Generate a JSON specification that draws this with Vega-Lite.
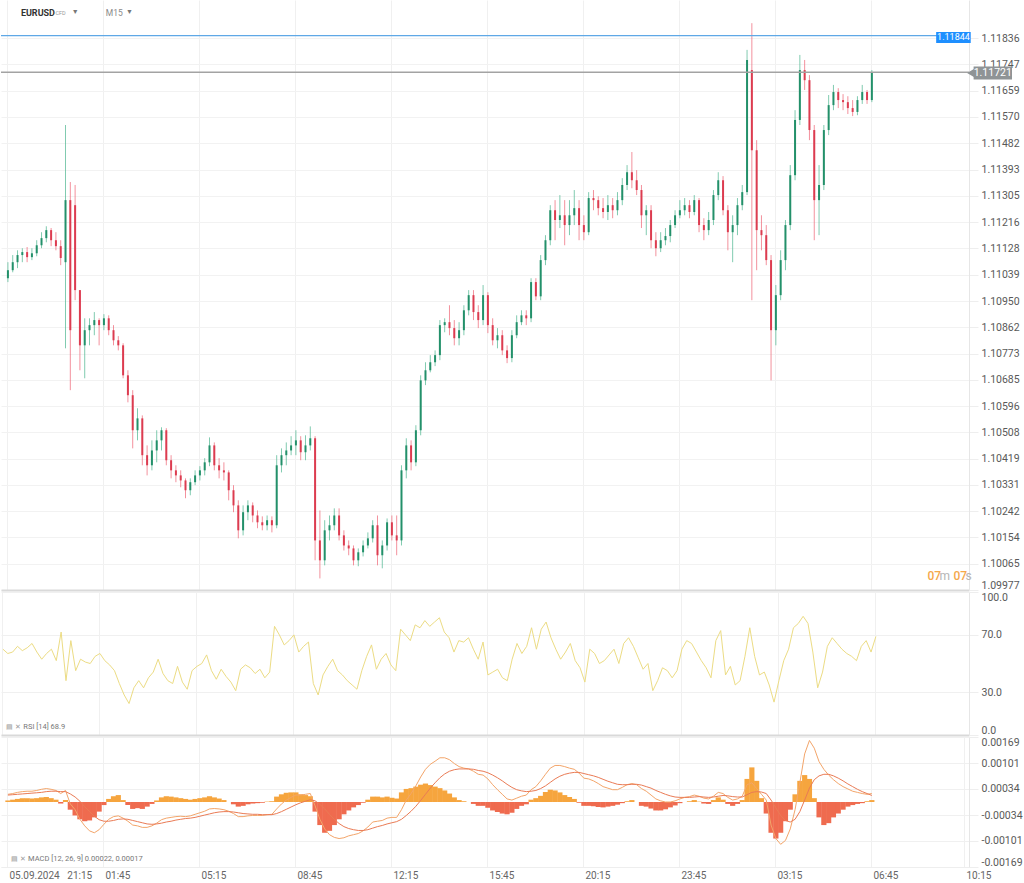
{
"$schema": "https://vega.github.io/schema/vega-lite/v6.json",
"padding": 0,
"spacing": 0,
"background": "white",
"config": {"view": {"stroke": null}, "axis": {"labelFont": "Roboto", "labelOverlap": false}, "text": {"font": "Roboto"}},
"data": {"values": [
{"i":0,"o":1.11027,"h":1.11081,"l":1.11014,"c":1.11054,"r":60,"m":0.0002,"s":0.00018,"g":0.00004},
{"i":1,"o":1.11054,"h":1.11105,"l":1.11047,"c":1.11081,"r":57,"m":0.00022,"s":0.00019,"g":0.00006},
{"i":2,"o":1.11081,"h":1.11121,"l":1.11061,"c":1.11105,"r":58,"m":0.00025,"s":0.0002,"g":0.00008},
{"i":3,"o":1.11105,"h":1.11128,"l":1.11081,"c":1.11115,"r":62,"m":0.00027,"s":0.00021,"g":0.0001},
{"i":4,"o":1.11115,"h":1.11132,"l":1.11081,"c":1.11098,"r":59,"m":0.00028,"s":0.00022,"g":0.0001},
{"i":5,"o":1.11098,"h":1.11128,"l":1.11088,"c":1.11111,"r":61,"m":0.00028,"s":0.00023,"g":0.00009},
{"i":6,"o":1.11111,"h":1.11155,"l":1.11101,"c":1.11138,"r":64,"m":0.0003,"s":0.00024,"g":0.0001},
{"i":7,"o":1.11138,"h":1.11182,"l":1.11128,"c":1.11162,"r":58,"m":0.00033,"s":0.00025,"g":0.00012},
{"i":8,"o":1.11162,"h":1.11202,"l":1.11148,"c":1.11189,"r":53,"m":0.00035,"s":0.00027,"g":0.00013},
{"i":9,"o":1.11189,"h":1.11196,"l":1.11135,"c":1.11155,"r":57,"m":0.00033,"s":0.00028,"g":0.0001},
{"i":10,"o":1.11155,"h":1.11182,"l":1.11121,"c":1.11135,"r":60,"m":0.0003,"s":0.00028,"g":0.00006},
{"i":11,"o":1.11135,"h":1.11155,"l":1.11071,"c":1.11095,"r":52,"m":0.00022,"s":0.00027,"g":-0.00004},
{"i":12,"o":1.11081,"h":1.11543,"l":1.10791,"c":1.1129,"r":72,"m":0.0003,"s":0.00027,"g":0.00005},
{"i":13,"o":1.1129,"h":1.11351,"l":1.1065,"c":1.10852,"r":38,"m":-0.00005,"s":0.00021,"g":-0.0002},
{"i":14,"o":1.11273,"h":1.11341,"l":1.10953,"c":1.10987,"r":66,"m":-0.0002,"s":0.00013,"g":-0.00035},
{"i":15,"o":1.10987,"h":1.10987,"l":1.10717,"c":1.10801,"r":45,"m":-0.00045,"s":0.00002,"g":-0.00045},
{"i":16,"o":1.10801,"h":1.10892,"l":1.1069,"c":1.10852,"r":53,"m":-0.00062,"s":-0.00012,"g":-0.0005},
{"i":17,"o":1.10852,"h":1.10892,"l":1.10801,"c":1.10869,"r":51,"m":-0.00075,"s":-0.00025,"g":-0.00048},
{"i":18,"o":1.10869,"h":1.10913,"l":1.10835,"c":1.10886,"r":50,"m":-0.0008,"s":-0.00037,"g":-0.0004},
{"i":19,"o":1.10886,"h":1.10892,"l":1.10801,"c":1.10869,"r":55,"m":-0.00072,"s":-0.00046,"g":-0.00025},
{"i":20,"o":1.10869,"h":1.10906,"l":1.10852,"c":1.10892,"r":57,"m":-0.00058,"s":-0.0005,"g":-0.00008},
{"i":21,"o":1.10892,"h":1.10902,"l":1.10835,"c":1.10852,"r":52,"m":-0.00045,"s":-0.0005,"g":0.00008},
{"i":22,"o":1.10852,"h":1.10869,"l":1.10801,"c":1.10818,"r":49,"m":-0.00038,"s":-0.00048,"g":0.00015},
{"i":23,"o":1.10818,"h":1.10832,"l":1.10784,"c":1.10801,"r":45,"m":-0.00036,"s":-0.00045,"g":0.00018},
{"i":24,"o":1.10801,"h":1.10808,"l":1.1069,"c":1.107,"r":36,"m":-0.00042,"s":-0.00044,"g":0.00005},
{"i":25,"o":1.107,"h":1.10717,"l":1.10609,"c":1.10633,"r":28,"m":-0.0005,"s":-0.00045,"g":-0.00008},
{"i":26,"o":1.10633,"h":1.1065,"l":1.10454,"c":1.10515,"r":22,"m":-0.0006,"s":-0.00048,"g":-0.00018},
{"i":27,"o":1.10515,"h":1.10589,"l":1.10481,"c":1.10555,"r":33,"m":-0.00062,"s":-0.00051,"g":-0.00016},
{"i":28,"o":1.10555,"h":1.10565,"l":1.10397,"c":1.10431,"r":38,"m":-0.00066,"s":-0.00054,"g":-0.00018},
{"i":29,"o":1.10431,"h":1.10464,"l":1.10363,"c":1.10397,"r":33,"m":-0.00066,"s":-0.00057,"g":-0.00012},
{"i":30,"o":1.10397,"h":1.10481,"l":1.1038,"c":1.10447,"r":40,"m":-0.00062,"s":-0.00058,"g":-0.00005},
{"i":31,"o":1.10447,"h":1.10515,"l":1.10407,"c":1.10481,"r":44,"m":-0.00055,"s":-0.00057,"g":0.00004},
{"i":32,"o":1.10481,"h":1.10525,"l":1.10447,"c":1.10515,"r":53,"m":-0.00046,"s":-0.00055,"g":0.00012},
{"i":33,"o":1.10515,"h":1.10522,"l":1.10397,"c":1.10414,"r":43,"m":-0.00042,"s":-0.00052,"g":0.00015},
{"i":34,"o":1.10414,"h":1.10431,"l":1.10353,"c":1.1038,"r":38,"m":-0.0004,"s":-0.0005,"g":0.00014},
{"i":35,"o":1.1038,"h":1.10397,"l":1.1034,"c":1.10363,"r":36,"m":-0.00038,"s":-0.00047,"g":0.00012},
{"i":36,"o":1.10363,"h":1.1038,"l":1.10323,"c":1.10346,"r":48,"m":-0.00037,"s":-0.00045,"g":0.0001},
{"i":37,"o":1.10346,"h":1.10353,"l":1.10286,"c":1.10313,"r":37,"m":-0.00038,"s":-0.00043,"g":0.00008},
{"i":38,"o":1.10313,"h":1.10353,"l":1.10296,"c":1.1034,"r":32,"m":-0.00036,"s":-0.00042,"g":0.00006},
{"i":39,"o":1.1034,"h":1.1038,"l":1.1033,"c":1.10363,"r":45,"m":-0.00032,"s":-0.0004,"g":0.00008},
{"i":40,"o":1.10363,"h":1.10394,"l":1.10346,"c":1.1038,"r":48,"m":-0.00028,"s":-0.00037,"g":0.0001},
{"i":41,"o":1.1038,"h":1.10421,"l":1.10363,"c":1.10407,"r":50,"m":-0.00024,"s":-0.00034,"g":0.00012},
{"i":42,"o":1.10407,"h":1.10491,"l":1.10394,"c":1.10464,"r":56,"m":-0.00018,"s":-0.00031,"g":0.00015},
{"i":43,"o":1.10464,"h":1.10474,"l":1.1038,"c":1.10397,"r":45,"m":-0.00017,"s":-0.00028,"g":0.00012},
{"i":44,"o":1.10397,"h":1.10421,"l":1.10353,"c":1.1038,"r":39,"m":-0.00018,"s":-0.00026,"g":0.00009},
{"i":45,"o":1.1038,"h":1.10407,"l":1.10346,"c":1.10373,"r":46,"m":-0.0002,"s":-0.00025,"g":0.00005},
{"i":46,"o":1.10373,"h":1.1038,"l":1.10279,"c":1.10313,"r":41,"m":-0.00024,"s":-0.00025,"g":0},
{"i":47,"o":1.10313,"h":1.1033,"l":1.10239,"c":1.10262,"r":37,"m":-0.0003,"s":-0.00026,"g":-0.00006},
{"i":48,"o":1.10262,"h":1.10279,"l":1.10151,"c":1.10178,"r":31,"m":-0.00038,"s":-0.00028,"g":-0.00012},
{"i":49,"o":1.10178,"h":1.10262,"l":1.10161,"c":1.10239,"r":46,"m":-0.00038,"s":-0.0003,"g":-0.0001},
{"i":50,"o":1.10239,"h":1.10279,"l":1.10212,"c":1.10262,"r":49,"m":-0.00036,"s":-0.00031,"g":-0.00006},
{"i":51,"o":1.10262,"h":1.10272,"l":1.10205,"c":1.10228,"r":47,"m":-0.00035,"s":-0.00032,"g":-0.00004},
{"i":52,"o":1.10228,"h":1.10245,"l":1.10185,"c":1.10205,"r":43,"m":-0.00035,"s":-0.00032,"g":-0.00003},
{"i":53,"o":1.10205,"h":1.10225,"l":1.10178,"c":1.10195,"r":46,"m":-0.00035,"s":-0.00033,"g":-0.00002},
{"i":54,"o":1.10195,"h":1.10228,"l":1.10178,"c":1.10212,"r":40,"m":-0.00033,"s":-0.00033,"g":0.00001},
{"i":55,"o":1.10212,"h":1.10225,"l":1.10171,"c":1.10195,"r":44,"m":-0.00032,"s":-0.00033,"g":0.00002},
{"i":56,"o":1.10195,"h":1.10431,"l":1.10185,"c":1.10397,"r":76,"m":-0.00018,"s":-0.0003,"g":0.00014},
{"i":57,"o":1.10397,"h":1.10454,"l":1.10373,"c":1.10431,"r":70,"m":-0.00005,"s":-0.00025,"g":0.0002},
{"i":58,"o":1.10431,"h":1.10474,"l":1.10397,"c":1.10447,"r":63,"m":0.00005,"s":-0.00019,"g":0.00024},
{"i":59,"o":1.10447,"h":1.10495,"l":1.10431,"c":1.10464,"r":66,"m":0.00012,"s":-0.00013,"g":0.00025},
{"i":60,"o":1.10464,"h":1.10515,"l":1.10431,"c":1.10481,"r":70,"m":0.00018,"s":-0.00007,"g":0.00025},
{"i":61,"o":1.10481,"h":1.10495,"l":1.10414,"c":1.10441,"r":58,"m":0.00018,"s":-0.00002,"g":0.0002},
{"i":62,"o":1.10441,"h":1.10498,"l":1.10414,"c":1.10464,"r":62,"m":0.0002,"s":0.00002,"g":0.00018},
{"i":63,"o":1.10464,"h":1.10528,"l":1.10447,"c":1.10488,"r":65,"m":0.00022,"s":0.00006,"g":0.00015},
{"i":64,"o":1.10488,"h":1.10495,"l":1.10077,"c":1.10144,"r":36,"m":-0.0001,"s":0.00003,"g":-0.00025},
{"i":65,"o":1.10144,"h":1.10245,"l":1.10016,"c":1.10077,"r":28,"m":-0.00045,"s":-0.00006,"g":-0.0006},
{"i":66,"o":1.10077,"h":1.10212,"l":1.1006,"c":1.10178,"r":42,"m":-0.0007,"s":-0.00018,"g":-0.0008},
{"i":67,"o":1.10178,"h":1.10228,"l":1.10144,"c":1.10195,"r":48,"m":-0.00085,"s":-0.00032,"g":-0.00075},
{"i":68,"o":1.10195,"h":1.10252,"l":1.10178,"c":1.10228,"r":53,"m":-0.00092,"s":-0.00045,"g":-0.0006},
{"i":69,"o":1.10228,"h":1.10252,"l":1.10144,"c":1.10161,"r":45,"m":-0.00095,"s":-0.00056,"g":-0.00045},
{"i":70,"o":1.10161,"h":1.10178,"l":1.1011,"c":1.10127,"r":42,"m":-0.00093,"s":-0.00064,"g":-0.00032},
{"i":71,"o":1.10127,"h":1.10144,"l":1.10094,"c":1.10117,"r":38,"m":-0.00088,"s":-0.00069,"g":-0.00022},
{"i":72,"o":1.10117,"h":1.10127,"l":1.1006,"c":1.10077,"r":35,"m":-0.00085,"s":-0.00072,"g":-0.00014},
{"i":73,"o":1.10077,"h":1.10117,"l":1.10057,"c":1.10104,"r":32,"m":-0.00082,"s":-0.00074,"g":-0.00008},
{"i":74,"o":1.10104,"h":1.10144,"l":1.1009,"c":1.10127,"r":45,"m":-0.00075,"s":-0.00074,"g":-0.00002},
{"i":75,"o":1.10127,"h":1.10171,"l":1.10117,"c":1.10151,"r":55,"m":-0.00065,"s":-0.00072,"g":0.00006},
{"i":76,"o":1.10151,"h":1.10212,"l":1.10137,"c":1.10195,"r":63,"m":-0.00052,"s":-0.00068,"g":0.00014},
{"i":77,"o":1.10195,"h":1.10228,"l":1.1006,"c":1.10094,"r":46,"m":-0.0005,"s":-0.00064,"g":0.00014},
{"i":78,"o":1.10094,"h":1.10144,"l":1.1005,"c":1.10127,"r":53,"m":-0.00048,"s":-0.00061,"g":0.00012},
{"i":79,"o":1.10127,"h":1.10218,"l":1.1011,"c":1.10205,"r":57,"m":-0.00042,"s":-0.00057,"g":0.00014},
{"i":80,"o":1.10205,"h":1.10228,"l":1.10144,"c":1.10161,"r":49,"m":-0.0004,"s":-0.00054,"g":0.00011},
{"i":81,"o":1.10161,"h":1.10228,"l":1.10094,"c":1.10144,"r":45,"m":-0.0004,"s":-0.00051,"g":0.00009},
{"i":82,"o":1.10144,"h":1.10397,"l":1.10127,"c":1.1038,"r":74,"m":-0.0002,"s":-0.00045,"g":0.00025},
{"i":83,"o":1.1038,"h":1.10488,"l":1.10353,"c":1.10464,"r":70,"m":0.00005,"s":-0.00035,"g":0.00034},
{"i":84,"o":1.10464,"h":1.10481,"l":1.1038,"c":1.10407,"r":66,"m":0.00022,"s":-0.00024,"g":0.00036},
{"i":85,"o":1.10407,"h":1.10532,"l":1.10394,"c":1.10515,"r":77,"m":0.00042,"s":-0.00011,"g":0.0004},
{"i":86,"o":1.10515,"h":1.107,"l":1.10498,"c":1.10683,"r":75,"m":0.00065,"s":0.00004,"g":0.00045},
{"i":87,"o":1.10683,"h":1.10744,"l":1.10667,"c":1.10717,"r":80,"m":0.00085,"s":0.0002,"g":0.00048},
{"i":88,"o":1.10717,"h":1.10768,"l":1.1071,"c":1.10744,"r":76,"m":0.00098,"s":0.00036,"g":0.00044},
{"i":89,"o":1.10744,"h":1.10784,"l":1.10731,"c":1.10768,"r":79,"m":0.00106,"s":0.0005,"g":0.0004},
{"i":90,"o":1.10768,"h":1.10886,"l":1.10751,"c":1.10869,"r":82,"m":0.00115,"s":0.00063,"g":0.00036},
{"i":91,"o":1.10869,"h":1.10892,"l":1.10845,"c":1.10879,"r":72,"m":0.00115,"s":0.00073,"g":0.0003},
{"i":92,"o":1.10879,"h":1.10936,"l":1.10835,"c":1.10859,"r":68,"m":0.0011,"s":0.0008,"g":0.00022},
{"i":93,"o":1.10859,"h":1.10886,"l":1.10801,"c":1.10825,"r":58,"m":0.001,"s":0.00084,"g":0.00012},
{"i":94,"o":1.10825,"h":1.10879,"l":1.10801,"c":1.10852,"r":66,"m":0.00092,"s":0.00086,"g":0.00005},
{"i":95,"o":1.10852,"h":1.10936,"l":1.10835,"c":1.10919,"r":65,"m":0.00088,"s":0.00086,"g":0.00002},
{"i":96,"o":1.10919,"h":1.10987,"l":1.10902,"c":1.1097,"r":68,"m":0.00086,"s":0.00086,"g":0},
{"i":97,"o":1.1097,"h":1.10987,"l":1.10886,"c":1.10913,"r":60,"m":0.0008,"s":0.00085,"g":-0.00005},
{"i":98,"o":1.10913,"h":1.10936,"l":1.10859,"c":1.10886,"r":53,"m":0.00072,"s":0.00082,"g":-0.0001},
{"i":99,"o":1.10886,"h":1.11004,"l":1.10869,"c":1.1097,"r":65,"m":0.0007,"s":0.0008,"g":-0.0001},
{"i":100,"o":1.1097,"h":1.1098,"l":1.10842,"c":1.10869,"r":42,"m":0.0006,"s":0.00076,"g":-0.00015},
{"i":101,"o":1.10869,"h":1.10892,"l":1.10801,"c":1.10818,"r":44,"m":0.00045,"s":0.0007,"g":-0.00022},
{"i":102,"o":1.10818,"h":1.10859,"l":1.10791,"c":1.10835,"r":46,"m":0.00032,"s":0.00063,"g":-0.00026},
{"i":103,"o":1.10835,"h":1.10852,"l":1.10768,"c":1.10784,"r":40,"m":0.0002,"s":0.00055,"g":-0.0003},
{"i":104,"o":1.10784,"h":1.10801,"l":1.10741,"c":1.10758,"r":38,"m":0.00008,"s":0.00046,"g":-0.00032},
{"i":105,"o":1.10758,"h":1.10852,"l":1.10744,"c":1.10835,"r":53,"m":0.00005,"s":0.00038,"g":-0.00028},
{"i":106,"o":1.10835,"h":1.10902,"l":1.10825,"c":1.10879,"r":64,"m":0.0001,"s":0.00032,"g":-0.00018},
{"i":107,"o":1.10879,"h":1.10919,"l":1.10869,"c":1.10902,"r":57,"m":0.00015,"s":0.00029,"g":-0.0001},
{"i":108,"o":1.10902,"h":1.10919,"l":1.10869,"c":1.10892,"r":62,"m":0.00018,"s":0.00027,"g":-0.00006},
{"i":109,"o":1.10892,"h":1.11027,"l":1.10879,"c":1.11014,"r":75,"m":0.00032,"s":0.00028,"g":0.00006},
{"i":110,"o":1.11014,"h":1.11027,"l":1.10953,"c":1.10966,"r":60,"m":0.0004,"s":0.0003,"g":0.0001},
{"i":111,"o":1.10966,"h":1.11105,"l":1.10953,"c":1.11088,"r":74,"m":0.00055,"s":0.00035,"g":0.00016},
{"i":112,"o":1.11088,"h":1.11172,"l":1.11071,"c":1.11155,"r":79,"m":0.00072,"s":0.00042,"g":0.00026},
{"i":113,"o":1.11155,"h":1.11273,"l":1.11138,"c":1.11256,"r":68,"m":0.00088,"s":0.00051,"g":0.00032},
{"i":114,"o":1.11256,"h":1.1129,"l":1.11155,"c":1.11223,"r":60,"m":0.00095,"s":0.0006,"g":0.0003},
{"i":115,"o":1.11223,"h":1.11307,"l":1.11196,"c":1.11239,"r":53,"m":0.00095,"s":0.00067,"g":0.00025},
{"i":116,"o":1.11239,"h":1.1129,"l":1.11138,"c":1.11206,"r":58,"m":0.00092,"s":0.00072,"g":0.00018},
{"i":117,"o":1.11206,"h":1.1129,"l":1.11172,"c":1.11239,"r":64,"m":0.00088,"s":0.00075,"g":0.00013},
{"i":118,"o":1.11239,"h":1.11324,"l":1.11206,"c":1.11263,"r":52,"m":0.00085,"s":0.00077,"g":0.00008},
{"i":119,"o":1.11263,"h":1.1129,"l":1.11155,"c":1.11206,"r":47,"m":0.00075,"s":0.00077,"g":-0.00002},
{"i":120,"o":1.11206,"h":1.11239,"l":1.11155,"c":1.11182,"r":37,"m":0.00062,"s":0.00074,"g":-0.0001},
{"i":121,"o":1.11182,"h":1.11317,"l":1.11172,"c":1.11297,"r":60,"m":0.0006,"s":0.00071,"g":-0.0001},
{"i":122,"o":1.11297,"h":1.11324,"l":1.11256,"c":1.1129,"r":57,"m":0.00055,"s":0.00068,"g":-0.00011},
{"i":123,"o":1.1129,"h":1.11303,"l":1.11239,"c":1.11263,"r":50,"m":0.00048,"s":0.00064,"g":-0.00013},
{"i":124,"o":1.11263,"h":1.11297,"l":1.11229,"c":1.1125,"r":52,"m":0.0004,"s":0.00059,"g":-0.00014},
{"i":125,"o":1.1125,"h":1.11307,"l":1.11223,"c":1.11273,"r":56,"m":0.00036,"s":0.00054,"g":-0.00012},
{"i":126,"o":1.11273,"h":1.11297,"l":1.11229,"c":1.11256,"r":60,"m":0.00032,"s":0.0005,"g":-0.0001},
{"i":127,"o":1.11256,"h":1.11317,"l":1.11239,"c":1.1129,"r":50,"m":0.00032,"s":0.00046,"g":-0.00007},
{"i":128,"o":1.1129,"h":1.11364,"l":1.11273,"c":1.11341,"r":64,"m":0.00038,"s":0.00045,"g":-0.00003},
{"i":129,"o":1.11341,"h":1.11408,"l":1.11324,"c":1.11384,"r":68,"m":0.00045,"s":0.00045,"g":0.00002},
{"i":130,"o":1.11384,"h":1.11452,"l":1.1133,"c":1.11357,"r":62,"m":0.00048,"s":0.00046,"g":0.00005},
{"i":131,"o":1.11357,"h":1.11391,"l":1.11307,"c":1.11324,"r":54,"m":0.00045,"s":0.00046,"g":0},
{"i":132,"o":1.11324,"h":1.11341,"l":1.11196,"c":1.11239,"r":46,"m":0.00035,"s":0.00044,"g":-0.0001},
{"i":133,"o":1.11239,"h":1.11273,"l":1.11172,"c":1.11256,"r":50,"m":0.00028,"s":0.0004,"g":-0.00012},
{"i":134,"o":1.11256,"h":1.11273,"l":1.11128,"c":1.11155,"r":31,"m":0.00018,"s":0.00036,"g":-0.00017},
{"i":135,"o":1.11155,"h":1.11182,"l":1.11101,"c":1.11128,"r":38,"m":0.00008,"s":0.0003,"g":-0.00022},
{"i":136,"o":1.11128,"h":1.11182,"l":1.11115,"c":1.11155,"r":47,"m":0.00003,"s":0.00025,"g":-0.00022},
{"i":137,"o":1.11155,"h":1.11196,"l":1.11138,"c":1.11169,"r":45,"m":0,"s":0.0002,"g":-0.00019},
{"i":138,"o":1.11169,"h":1.11223,"l":1.11148,"c":1.11206,"r":40,"m":0,"s":0.00016,"g":-0.00014},
{"i":139,"o":1.11206,"h":1.11256,"l":1.11196,"c":1.11239,"r":45,"m":0.00003,"s":0.00013,"g":-0.00009},
{"i":140,"o":1.11239,"h":1.1129,"l":1.11229,"c":1.11256,"r":60,"m":0.00008,"s":0.00012,"g":-0.00003},
{"i":141,"o":1.11256,"h":1.11297,"l":1.11239,"c":1.11273,"r":66,"m":0.00012,"s":0.00012,"g":0},
{"i":142,"o":1.11273,"h":1.1129,"l":1.11229,"c":1.1125,"r":64,"m":0.00014,"s":0.00012,"g":0.00002},
{"i":143,"o":1.1125,"h":1.11307,"l":1.11239,"c":1.1129,"r":58,"m":0.00018,"s":0.00013,"g":0.00005},
{"i":144,"o":1.1129,"h":1.11297,"l":1.11182,"c":1.11206,"r":52,"m":0.00015,"s":0.00014,"g":0.00001},
{"i":145,"o":1.11206,"h":1.11229,"l":1.11155,"c":1.11189,"r":47,"m":0.0001,"s":0.00013,"g":-0.00004},
{"i":146,"o":1.11189,"h":1.1125,"l":1.11172,"c":1.11223,"r":40,"m":0.00008,"s":0.00012,"g":-0.00005},
{"i":147,"o":1.11223,"h":1.11324,"l":1.11206,"c":1.11307,"r":66,"m":0.00015,"s":0.00013,"g":0.00005},
{"i":148,"o":1.11307,"h":1.11384,"l":1.1129,"c":1.11357,"r":73,"m":0.00025,"s":0.00015,"g":0.00012},
{"i":149,"o":1.11357,"h":1.11371,"l":1.11239,"c":1.11256,"r":42,"m":0.00022,"s":0.00017,"g":0.00006},
{"i":150,"o":1.11256,"h":1.11273,"l":1.11121,"c":1.11182,"r":48,"m":0.00012,"s":0.00016,"g":-0.00005},
{"i":151,"o":1.11182,"h":1.11239,"l":1.11081,"c":1.11206,"r":35,"m":0.00005,"s":0.00014,"g":-0.0001},
{"i":152,"o":1.11206,"h":1.11297,"l":1.11172,"c":1.11273,"r":38,"m":0.00008,"s":0.00013,"g":-0.00005},
{"i":153,"o":1.11273,"h":1.11341,"l":1.11256,"c":1.11317,"r":55,"m":0.00015,"s":0.00013,"g":0.00005},
{"i":154,"o":1.11317,"h":1.11796,"l":1.11307,"c":1.11762,"r":75,"m":0.00045,"s":0.00019,"g":0.0006},
{"i":155,"o":1.11728,"h":1.11886,"l":1.10953,"c":1.11458,"r":55,"m":0.0005,"s":0.00025,"g":0.0009},
{"i":156,"o":1.11458,"h":1.11492,"l":1.11054,"c":1.11189,"r":42,"m":0.00035,"s":0.00027,"g":0.00055},
{"i":157,"o":1.11189,"h":1.11239,"l":1.11121,"c":1.11172,"r":44,"m":0.0002,"s":0.00026,"g":0.0001},
{"i":158,"o":1.11172,"h":1.11206,"l":1.11071,"c":1.11088,"r":35,"m":0.00005,"s":0.00022,"g":-0.0003},
{"i":159,"o":1.11088,"h":1.11105,"l":1.10683,"c":1.10852,"r":23,"m":-0.0006,"s":0.00005,"g":-0.0008},
{"i":160,"o":1.10852,"h":1.11004,"l":1.10801,"c":1.1097,"r":38,"m":-0.00095,"s":-0.00015,"g":-0.00095},
{"i":161,"o":1.1097,"h":1.11121,"l":1.10953,"c":1.11088,"r":52,"m":-0.0011,"s":-0.00035,"g":-0.0008},
{"i":162,"o":1.11088,"h":1.11223,"l":1.11054,"c":1.11206,"r":60,"m":-0.001,"s":-0.00048,"g":-0.0005},
{"i":163,"o":1.11206,"h":1.11408,"l":1.11189,"c":1.11374,"r":75,"m":-0.0007,"s":-0.00052,"g":-0.0002},
{"i":164,"o":1.11374,"h":1.11593,"l":1.11357,"c":1.1156,"r":78,"m":-0.0002,"s":-0.00045,"g":0.0002},
{"i":165,"o":1.1156,"h":1.11779,"l":1.11543,"c":1.11728,"r":83,"m":0.0005,"s":-0.00025,"g":0.00055},
{"i":166,"o":1.11728,"h":1.11762,"l":1.11661,"c":1.11694,"r":78,"m":0.00125,"s":0.00005,"g":0.0007},
{"i":167,"o":1.11694,"h":1.11711,"l":1.11492,"c":1.11526,"r":58,"m":0.0016,"s":0.00036,"g":0.0006},
{"i":168,"o":1.11526,"h":1.11543,"l":1.11155,"c":1.1129,"r":33,"m":0.0014,"s":0.00058,"g":0.0001},
{"i":169,"o":1.1129,"h":1.11408,"l":1.11172,"c":1.11341,"r":44,"m":0.00105,"s":0.00068,"g":-0.0004},
{"i":170,"o":1.11341,"h":1.11543,"l":1.11324,"c":1.11526,"r":62,"m":0.00085,"s":0.00072,"g":-0.0006},
{"i":171,"o":1.11526,"h":1.11644,"l":1.11509,"c":1.1161,"r":68,"m":0.0007,"s":0.00072,"g":-0.00055},
{"i":172,"o":1.1161,"h":1.11678,"l":1.11593,"c":1.11654,"r":64,"m":0.00058,"s":0.00068,"g":-0.0004},
{"i":173,"o":1.11654,"h":1.11667,"l":1.116,"c":1.11627,"r":60,"m":0.00048,"s":0.00062,"g":-0.0003},
{"i":174,"o":1.11627,"h":1.11647,"l":1.11593,"c":1.1162,"r":57,"m":0.0004,"s":0.00055,"g":-0.0002},
{"i":175,"o":1.1162,"h":1.1164,"l":1.1158,"c":1.116,"r":55,"m":0.00034,"s":0.00047,"g":-0.00012},
{"i":176,"o":1.116,"h":1.11627,"l":1.11573,"c":1.11587,"r":52,"m":0.00028,"s":0.0004,"g":-0.00008},
{"i":177,"o":1.11587,"h":1.1164,"l":1.11576,"c":1.11627,"r":62,"m":0.00025,"s":0.00033,"g":-0.00005},
{"i":178,"o":1.11627,"h":1.11678,"l":1.11614,"c":1.11654,"r":66,"m":0.00022,"s":0.00027,"g":-0.00003},
{"i":179,"o":1.11654,"h":1.11661,"l":1.11614,"c":1.11627,"r":58,"m":0.0002,"s":0.00022,"g":0.00002},
{"i":180,"o":1.11627,"h":1.11728,"l":1.1162,"c":1.11721,"r":68.9,"m":0.00022,"s":0.00017,"g":0.00005}
]},
"vconcat": [
{
"width": 968, "height": 590,
"layer": [
{"mark": {"type": "rule", "strokeWidth": 1, "opacity": 0.7},
 "encoding": {
  "x": {"field": "i", "type": "quantitative", "title": null, "scale": {"domain": [-0.4, 199.2], "nice": false, "zero": false},
        "axis": {"orient": "bottom", "values": [-0.2, 19.8, 39.8, 59.8, 79.8, 99.8, 119.8, 139.8, 159.8, 179.8], "tickCount": 40, "labels": false, "ticks": false, "domain": true, "domainColor": "#d9d9d9", "domainWidth": 2, "grid": true, "gridColor": "#f0f0f0"}},
  "y": {"field": "l", "type": "quantitative", "title": null, "scale": {"domain": [1.09977, 1.11964], "nice": false, "zero": false},
        "axis": {"orient": "right", "values": [1.09977, 1.10065, 1.10154, 1.10242, 1.10331, 1.10419, 1.10508, 1.10596, 1.10685, 1.10773, 1.10862, 1.1095, 1.11039, 1.11128, 1.11216, 1.11305, 1.11393, 1.11482, 1.1157, 1.11659, 1.11747, 1.11836], "tickCount": 40, "format": ".5f", "labelOverlap": false, "labelBound": false, "labelFlush": true, "grid": true, "gridColor": "#f2f2f2", "domain": true, "domainColor": "#e6e6e6", "ticks": true, "tickColor": "#eeeeee", "tickSize": 9, "labelPadding": 3, "labelFontSize": 10.5, "labelColor": "#595959"}},
  "y2": {"field": "h"},
  "color": {"condition": {"test": "datum.c >= datum.o", "value": "#4cb58f"}, "value": "#ee6374"}
 }},
{"mark": {"type": "bar", "width": 2},
 "encoding": {
  "x": {"field": "i", "type": "quantitative", "title": null},
  "y": {"field": "o", "type": "quantitative", "title": null},
  "y2": {"field": "c"},
  "color": {"condition": {"test": "datum.c >= datum.o", "value": "#23906a"}, "value": "#dc3c50"}
 }},
{"data": {"values": [{}]}, "mark": {"type": "rule", "color": "#5fa8e6", "strokeWidth": 1.2}, "encoding": {"y": {"datum": 1.11844}}},
{"data": {"values": [{}]}, "mark": {"type": "rule", "color": "#a3a3a3", "strokeWidth": 1.5}, "encoding": {"y": {"datum": 1.11721}}},
{"data": {"values": [{}]}, "mark": {"type": "rect", "color": "#1e8fff"}, "encoding": {"x": {"datum": 193.4}, "x2": {"datum": 200.6}, "y": {"datum": 1.11856}, "y2": {"datum": 1.11819}}},
{"data": {"values": [{}]}, "mark": {"type": "text", "color": "white", "fontSize": 9, "align": "center", "baseline": "middle"}, "encoding": {"x": {"datum": 197.0}, "y": {"datum": 1.11838}, "text": {"value": "1.11844"}}},
{"data": {"values": [{}]}, "mark": {"type": "rect", "color": "#8f9496"}, "encoding": {"x": {"datum": 201.2}, "x2": {"datum": 209.2}, "y": {"datum": 1.11740}, "y2": {"datum": 1.11696}}},
{"data": {"values": [{}]}, "mark": {"type": "point", "shape": "triangle-left", "filled": true, "opacity": 1, "color": "#8f9496", "size": 70}, "encoding": {"x": {"datum": 200.6}, "y": {"datum": 1.11718}}},
{"data": {"values": [{}]}, "mark": {"type": "text", "color": "white", "fontSize": 10.5, "align": "center", "baseline": "middle"}, "encoding": {"x": {"datum": 205.2}, "y": {"datum": 1.11718}, "text": {"value": "1.11721"}}},
{"data": {"values": [{}]}, "mark": {"type": "text", "color": "#333333", "fontSize": 9, "fontWeight": "bold", "align": "left", "baseline": "middle"}, "encoding": {"x": {"datum": 2.7}, "y": {"datum": 1.1192}, "text": {"value": "EURUSD"}}},
{"data": {"values": [{}]}, "mark": {"type": "text", "color": "#999999", "fontSize": 5.5, "align": "left", "baseline": "middle"}, "encoding": {"x": {"datum": 9.9}, "y": {"datum": 1.1192}, "text": {"value": "CFD"}}},
{"data": {"values": [{}]}, "mark": {"type": "text", "color": "#777777", "fontSize": 7, "align": "left", "baseline": "middle"}, "encoding": {"x": {"datum": 13.3}, "y": {"datum": 1.11923}, "text": {"value": "▼"}}},
{"data": {"values": [{}]}, "mark": {"type": "text", "color": "#8a8a8a", "fontSize": 8.5, "align": "left", "baseline": "middle"}, "encoding": {"x": {"datum": 20.4}, "y": {"datum": 1.1192}, "text": {"value": "M15"}}},
{"data": {"values": [{}]}, "mark": {"type": "text", "color": "#777777", "fontSize": 7, "align": "left", "baseline": "middle"}, "encoding": {"x": {"datum": 24.6}, "y": {"datum": 1.11923}, "text": {"value": "▼"}}},
{"data": {"values": [{}]}, "mark": {"type": "text", "color": "#f5a84a", "fontSize": 12, "fontWeight": 500, "align": "left", "baseline": "middle"}, "encoding": {"x": {"datum": 191.6}, "y": {"datum": 1.10023}, "text": {"value": "07"}}},
{"data": {"values": [{}]}, "mark": {"type": "text", "color": "#b5b5b5", "fontSize": 12, "align": "left", "baseline": "middle"}, "encoding": {"x": {"datum": 194.1}, "y": {"datum": 1.10023}, "text": {"value": "m"}}},
{"data": {"values": [{}]}, "mark": {"type": "text", "color": "#f5a84a", "fontSize": 12, "fontWeight": 500, "align": "left", "baseline": "middle"}, "encoding": {"x": {"datum": 197.0}, "y": {"datum": 1.10023}, "text": {"value": "07"}}},
{"data": {"values": [{}]}, "mark": {"type": "text", "color": "#b5b5b5", "fontSize": 12, "align": "left", "baseline": "middle"}, "encoding": {"x": {"datum": 199.5}, "y": {"datum": 1.10023}, "text": {"value": "s"}}}
]
},
{
"width": 968, "height": 143,
"layer": [
{"mark": {"type": "line", "color": "#ecdc84", "strokeWidth": 1},
 "encoding": {
  "x": {"field": "i", "type": "quantitative", "title": null, "scale": {"domain": [-0.4, 199.2], "nice": false, "zero": false},
        "axis": {"orient": "bottom", "values": [-0.2, 19.8, 39.8, 59.8, 79.8, 99.8, 119.8, 139.8, 159.8, 179.8], "tickCount": 40, "labels": false, "ticks": false, "domain": true, "domainColor": "#d9d9d9", "domainWidth": 2, "grid": true, "gridColor": "#f0f0f0"}},
  "y": {"field": "r", "type": "quantitative", "title": null, "scale": {"domain": [0, 100], "nice": false, "zero": false},
        "axis": {"orient": "right", "values": [0, 30, 70, 100], "tickCount": 40, "format": ".1f", "labelOverlap": false, "labelFlush": true, "grid": true, "gridColor": "#f0f0f0", "domain": true, "domainColor": "#e6e6e6", "ticks": true, "tickColor": "#eeeeee", "tickSize": 9, "labelPadding": 3, "labelFontSize": 10.5, "labelColor": "#595959"}}
 }},
{"data": {"values": [{}]}, "mark": {"type": "text", "color": "#9a9a9a", "fontSize": 7, "align": "left", "baseline": "middle"}, "encoding": {"x": {"datum": 0.6}, "y": {"datum": 5.6}, "text": {"value": "▤ ✕"}}},
{"data": {"values": [{}]}, "mark": {"type": "text", "color": "#777777", "fontSize": 7.5, "align": "left", "baseline": "middle"}, "encoding": {"x": {"datum": 4.2}, "y": {"datum": 5.6}, "text": {"value": "RSI [14]  68.9"}}}
]
},
{
"width": 968, "height": 130,
"layer": [
{"mark": {"type": "bar", "width": 5.2},
 "encoding": {
  "x": {"field": "i", "type": "quantitative", "title": null, "scale": {"domain": [-0.4, 199.2], "nice": false, "zero": false},
        "axis": {"orient": "bottom", "values": [-0.2, 19.8, 39.8, 59.8, 79.8, 99.8, 119.8, 139.8, 159.8, 179.8, 199.2], "tickCount": 40, "labelExpr": "['05.09.2024\u2002 21:15','01:45','05:15','08:45','12:15','15:45','20:15','23:45','03:15','06:45','10:15'][round((datum.value + 0.2) / 20)]", "labelAlign": "left", "labelOffset": 2, "labelPadding": 3, "labelFontSize": 10, "labelColor": "#666666", "labelOverlap": false, "ticks": false, "domain": true, "domainColor": "#eeeeee", "grid": true, "gridColor": "#f0f0f0"}},
  "y": {"field": "g", "type": "quantitative", "title": null, "scale": {"domain": [-0.00169, 0.00169], "nice": false, "zero": false},
        "axis": {"orient": "right", "values": [-0.00169, -0.00101, -0.00034, 0.00034, 0.00101, 0.00169], "tickCount": 40, "labelExpr": "replace(format(datum.value, '.5f'), '\u2212', '-')", "labelOverlap": false, "labelBound": false, "labelFlush": true, "grid": true, "gridColor": "#f0f0f0", "domain": true, "domainColor": "#e6e6e6", "ticks": true, "tickColor": "#eeeeee", "tickSize": 9, "labelPadding": 3, "labelFontSize": 10.5, "labelColor": "#595959"}},
  "color": {"condition": {"test": "datum.g >= 0", "value": "#f6a53e"}, "value": "#ef6b4f"}
 }},
{"mark": {"type": "line", "color": "#f3a56a", "strokeWidth": 1},
 "encoding": {"x": {"field": "i", "type": "quantitative", "title": null}, "y": {"field": "m", "type": "quantitative", "title": null}}},
{"mark": {"type": "line", "color": "#ea7b55", "strokeWidth": 1},
 "encoding": {"x": {"field": "i", "type": "quantitative", "title": null}, "y": {"field": "s", "type": "quantitative", "title": null}}},
{"data": {"values": [{}]}, "mark": {"type": "text", "color": "#9a9a9a", "fontSize": 7, "align": "left", "baseline": "middle"}, "encoding": {"x": {"datum": 0.6}, "y": {"datum": -0.00148}, "text": {"value": "▤ ✕"}}},
{"data": {"values": [{}]}, "mark": {"type": "text", "color": "#777777", "fontSize": 7.5, "align": "left", "baseline": "middle"}, "encoding": {"x": {"datum": 4.2}, "y": {"datum": -0.00148}, "text": {"value": "MACD [12, 26, 9]  0.00022,  0.00017"}}}
]
}
]
}
